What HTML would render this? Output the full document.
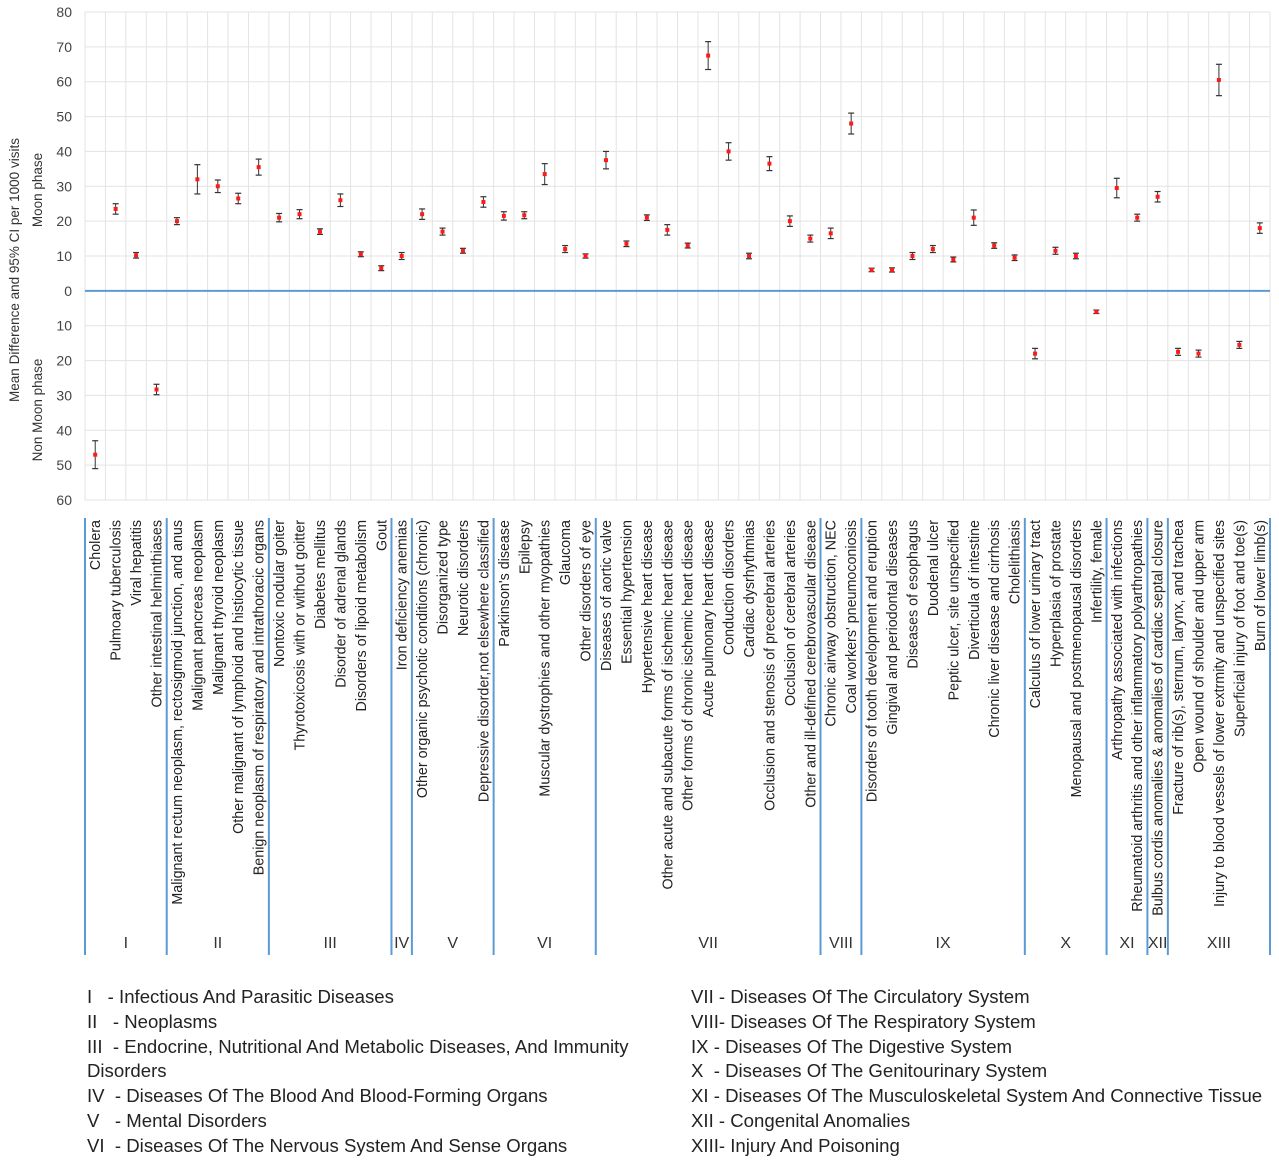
<!DOCTYPE html>
<html><head><meta charset="utf-8"><style>
body{margin:0;background:#fff;width:1279px;height:1163px;overflow:hidden;font-family:"Liberation Sans",sans-serif;}
svg text{font-family:"Liberation Sans",sans-serif;}
.leg{position:absolute;font-size:18.6px;color:#222;line-height:24.8px;}
</style></head><body>
<svg id="chart" width="1279" height="975" style="position:absolute;left:0;top:0"></svg>
<div class="leg" style="left:87px;top:985px;width:585px">
<div>I &nbsp;&nbsp;- Infectious And Parasitic Diseases</div>
<div>II &nbsp;&nbsp;- Neoplasms</div>
<div style="margin-left:0">III &nbsp;- Endocrine, Nutritional And Metabolic Diseases, And Immunity Disorders</div>
<div>IV &nbsp;- Diseases Of The Blood And Blood-Forming Organs</div>
<div>V &nbsp;&nbsp;- Mental Disorders</div>
<div>VI &nbsp;- Diseases Of The Nervous System And Sense Organs</div>
</div>
<div class="leg" style="left:691px;top:985px;width:590px;white-space:nowrap">
<div>VII - Diseases Of The Circulatory System</div>
<div>VIII- Diseases Of The Respiratory System</div>
<div>IX - Diseases Of The Digestive System</div>
<div>X &nbsp;- Diseases Of The Genitourinary System</div>
<div>XI - Diseases Of The Musculoskeletal System And Connective Tissue</div>
<div>XII - Congenital Anomalies</div>
<div>XIII- Injury And Poisoning</div>
</div>
<script>
const categories=["Cholera","Pulmoary tuberculosis","Viral hepatitis","Other intestinal helminthiases","Malignant rectum neoplasm, rectosigmoid junction, and anus","Malignant pancreas neoplasm","Malignant thyroid neoplasm","Other malignant of lymphoid and histiocytic tissue","Benign neoplasm of respiratory and intrathoracic organs","Nontoxic nodular goiter","Thyrotoxicosis with or without goitter","Diabetes mellitus","Disorder of adrenal glands","Disorders of lipoid metabolism","Gout","Iron deficiency anemias","Other organic psychotic conditions (chronic)","Disorganized type","Neurotic disorders","Depressive disorder,not elsewhere classified","Parkinson's disease","Epilepsy","Muscular dystrophies and other myopathies","Glaucoma","Other disorders of eye","Diseases of aortic valve","Essential hypertension","Hypertensive heart disease","Other acute and subacute forms of ischemic heart disease","Other forms of chronic ischemic heart disease","Acute pulmonary heart disease","Conduction disorders","Cardiac dysrhythmias","Occlusion and stenosis of precerebral arteries","Occlusion of cerebral arteries","Other and ill-defined cerebrovascular disease","Chronic airway obstruction, NEC","Coal workers' pneumoconiosis","Disorders of tooth development and eruption","Gingival and periodontal diseases","Diseases of esophagus","Duodenal ulcer","Peptic ulcer, site unspecified","Diverticula of intestine","Chronic liver disease and cirrhosis","Cholelithiasis","Calculus of lower urinary tract","Hyperplasia of prostate","Menopausal and postmenopausal disorders","Infertility, female","Arthropathy associated with infections","Rheumatoid arthritis and other inflammatory polyarthropathies","Bulbus cordis anomalies & anomalies of cardiac septal closure","Fracture of rib(s), sternum, larynx, and trachea","Open wound of shoulder and upper arm","Injury to blood vessels of lower extrmity and unspecified sites","Superficial injury of foot and toe(s)","Burn of lower limb(s)"];
const meanValues=[-47,23.5,10.2,-28.3,20,32,30,26.5,35.5,21,22,17,26,10.5,6.5,10,22,17,11.5,25.5,21.5,21.7,33.5,12,10,37.5,13.5,21,17.5,13,67.5,40,10,36.5,20,15,16.5,48,6,6,10,12,9,21,13,9.5,-18,11.5,10,-6,29.5,21,27,-17.5,-18,60.5,-15.5,18];
const ciHalf=[4,1.5,0.8,1.5,1,4.2,1.8,1.5,2.3,1.2,1.3,0.8,1.8,0.7,0.7,1,1.5,1,0.7,1.5,1.2,1,3,1,0.6,2.5,0.8,0.8,1.5,0.7,4,2.5,0.8,2,1.5,1,1.5,3,0.5,0.6,1,1,0.7,2.2,0.8,0.8,1.5,1,0.8,0.5,2.8,1,1.5,1,1,4.5,1,1.5];
const groupNames=["I","II","III","IV","V","VI","VII","VIII","IX","X","XI","XII","XIII"];
const groupSizes=[4,5,6,1,4,5,11,2,8,4,2,1,5];
const yTickValues=[80,70,60,50,40,30,20,10,0,-10,-20,-30,-40,-50,-60];
const yTickLabels=["80","70","60","50","40","30","20","10","0","10","20","30","40","50","60"];

const NS="http://www.w3.org/2000/svg";
const svg=document.getElementById('chart');
const L=85,R=1270,T=12,B=500,yMax=80,yMin=-60;
const band=(R-L)/categories.length;
const y=v=>T+(yMax-v)/(yMax-yMin)*(B-T);
const x=i=>L+band*(i+0.5);
function mk(tag,attrs,parent){const e=document.createElementNS(NS,tag);for(const k in attrs)e.setAttribute(k,attrs[k]);(parent||svg).appendChild(e);return e;}
yTickValues.forEach((v,i)=>{
  const g=mk('line',{x1:L,x2:R,y1:y(v),y2:y(v),stroke:'#e3e3e3','stroke-width':1});
  
  
  const t=mk('text',{x:72,y:y(v)+5,'text-anchor':'end','font-size':14,fill:'#444'});
  t.textContent=yTickLabels[i];
  
  
});
for(let i=0;i<=categories.length;i++){
  const g=mk('line',{x1:L+band*i,x2:L+band*i,y1:T,y2:B,stroke:'#e3e3e3','stroke-width':1});
  
  
}
const z=mk('line',{x1:L,x2:R,y1:y(0),y2:y(0),stroke:'#5b9bd5','stroke-width':2});


const t1=mk('text',{transform:'translate(19,270) rotate(-90)','text-anchor':'middle','font-size':13.5,fill:'#333'});
t1.textContent='Mean Difference and 95% CI per 1000 visits';


const t2=mk('text',{transform:'translate(42,190) rotate(-90)','text-anchor':'middle','font-size':13.5,fill:'#333'});
t2.textContent='Moon phase';


const t3=mk('text',{transform:'translate(42,410) rotate(-90)','text-anchor':'middle','font-size':13.5,fill:'#333'});
t3.textContent='Non Moon phase';


categories.forEach((c,i)=>{
  const cx=x(i),m=meanValues[i],h=ciHalf[i];
  const g=mk('g',{});
  
  
  mk('line',{x1:cx,x2:cx,y1:y(m+h),y2:y(m-h),stroke:'#333','stroke-width':1},g);
  mk('line',{x1:cx-3,x2:cx+3,y1:y(m+h),y2:y(m+h),stroke:'#333','stroke-width':1.2},g);
  mk('line',{x1:cx-3,x2:cx+3,y1:y(m-h),y2:y(m-h),stroke:'#333','stroke-width':1.2},g);
  const p=mk('rect',{x:cx-2,y:y(m)-2,width:4,height:4,fill:'#ff1a1a'},g);
  
  
  const t=mk('text',{transform:`translate(${cx+5},520) rotate(-90)`,'text-anchor':'end','font-size':14.3,fill:'#222'});
  t.textContent=c;
  
  
});
let start=0;
const gl=mk('line',{x1:L,x2:L,y1:518,y2:955,stroke:'#5b9bd5','stroke-width':2});


groupSizes.forEach((n,gi)=>{
  const end=start+n;
  const xe=L+band*end;
  const s=mk('line',{x1:xe,x2:xe,y1:518,y2:955,stroke:'#5b9bd5','stroke-width':2});
  
  
  const t=mk('text',{x:L+band*(start+end)/2,y:948,'text-anchor':'middle','font-size':16,fill:'#333'});
  t.textContent=groupNames[gi];
  
  
  start=end;
});
</script>
</body></html>
